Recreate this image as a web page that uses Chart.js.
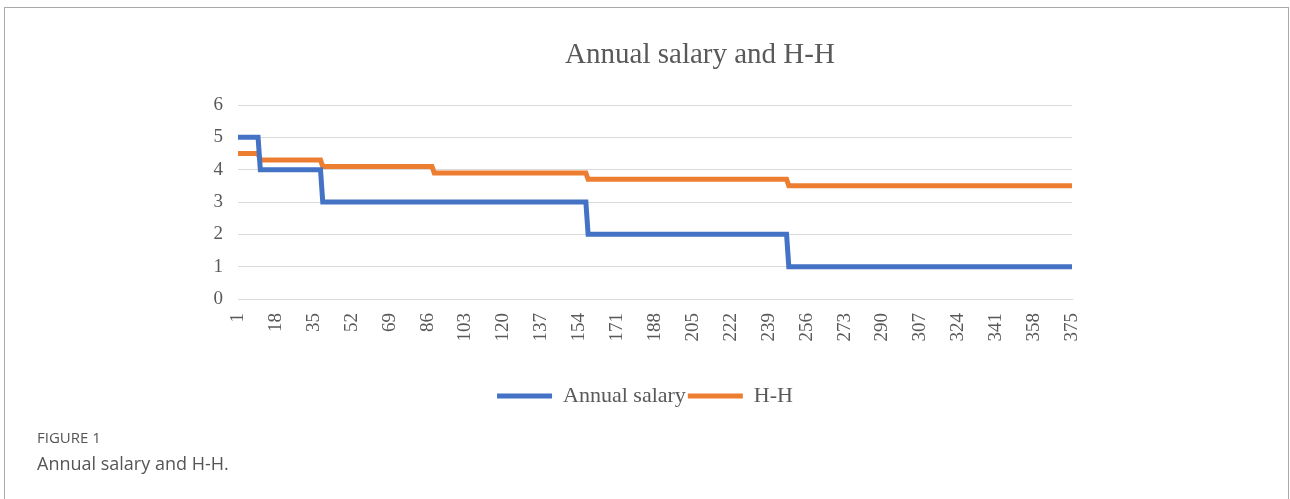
<!DOCTYPE html>
<html>
<head>
<meta charset="utf-8">
<script src="https://cdn.jsdelivr.net/npm/chart.js@4/dist/chart.umd.min.js"></script>
<style>
  html, body { margin: 0; padding: 0; background: #fff; }
  body { width: 1290px; height: 499px; position: relative; overflow: hidden; }
  .frame { position: absolute; left: 4px; top: 7px; width: 1285px; height: 520px; border: 1px solid #aaa; box-sizing: border-box; }
  .chart-wrap { position: absolute; left: 0; top: 0; width: 1290px; height: 430px; }
  .chart-title { position: absolute; left: 500px; width: 400px; top: 37px; line-height: 30px; text-align: center;
                 font: 29px "Liberation Serif", "Times New Roman", serif; color: #595959; }
  .fig-label { position: absolute; left: 37px; top: 427px; font: 15px "Open Sans", sans-serif; color: #555; }
  .fig-caption { position: absolute; left: 37px; top: 451px; font: 18px "Open Sans", sans-serif; color: #555; }
</style>
</head>
<body>
<div class="frame"></div>
<div class="chart-wrap"><canvas id="salaryChart"></canvas></div>
<div class="chart-title">Annual salary and H-H</div>
<div class="fig-label">FIGURE 1</div>
<div class="fig-caption">Annual salary and H-H.</div>
<script>
// step series: x = record index where each level starts / ends
const salaryX = [1, 10, 11, 38, 39, 157, 158, 247, 248, 375];
const salaryY = [5, 5, 4, 4, 3, 3, 2, 2, 1, 1];
const hhX = [1, 10, 11, 38, 39, 88, 89, 157, 158, 247, 248, 375];
const hhY = [4.5, 4.5, 4.3, 4.3, 4.1, 4.1, 3.9, 3.9, 3.7, 3.7, 3.5, 3.5];
const xFirst = 1, xLast = 375, xStep = 17;
const yTicks = [0, 1, 2, 3, 4, 5, 6];

const toPoints = (xs, ys) => xs.map((x, i) => ({ x, y: ys[i] }));
const serif = "'Liberation Serif', 'Times New Roman', serif";
const grey = "#595959";

new Chart(document.getElementById("salaryChart"), {
  type: "line",
  data: {
    datasets: [
      {
        label: "Annual salary",
        data: toPoints(salaryX, salaryY),
        borderColor: "#4472C4",
        backgroundColor: "#4472C4",
        borderWidth: 5,
        pointRadius: 0,
        tension: 0,
      },
      {
        label: "H-H",
        data: toPoints(hhX, hhY),
        borderColor: "#ED7D31",
        backgroundColor: "#ED7D31",
        borderWidth: 5,
        pointRadius: 0,
        tension: 0,
      },
    ],
  },
  options: {
    responsive: true,
    maintainAspectRatio: false,
    animation: false,
    layout: { padding: { left: 0, right: 0, top: 105, bottom: 13 } },
    plugins: {
      title: { display: false },
      legend: {
        position: "bottom",
        labels: {
          color: grey,
          font: { family: serif, size: 22 },
          usePointStyle: true,
          pointStyle: "line",
          pointStyleWidth: 55,
          padding: 2,
        },
      },
      tooltip: { enabled: false },
    },
    scales: {
      x: {
        type: "linear",
        min: xFirst,
        max: xLast,
        ticks: {
          stepSize: xStep,
          minRotation: 90,
          maxRotation: 90,
          padding: 6,
          color: grey,
          font: { family: serif, size: 19 },
        },
        grid: { display: false },
        border: { display: true, color: "#d9d9d9", width: 1 },
        afterFit: (s) => { s.height = 84; },
      },
      y: {
        min: 0,
        max: 6,
        afterBuildTicks: (s) => { s.ticks = yTicks.map((v) => ({ value: v })); },
        ticks: {
          padding: 15,
          color: grey,
          font: { family: serif, size: 19 },
        },
        grid: { color: "#d9d9d9", lineWidth: 1, drawTicks: false },
        border: { display: false },
        afterFit: (s) => { s.width = 238; },
      },
      // empty right-hand axis that only reserves the space right of the plot
      yRight: {
        position: "right",
        min: 0,
        max: 6,
        ticks: { display: false },
        grid: { display: false, drawTicks: false },
        border: { display: false },
        afterFit: (s) => { s.width = 218; },
      },
    },
  },
});
</script>
</body>
</html>
